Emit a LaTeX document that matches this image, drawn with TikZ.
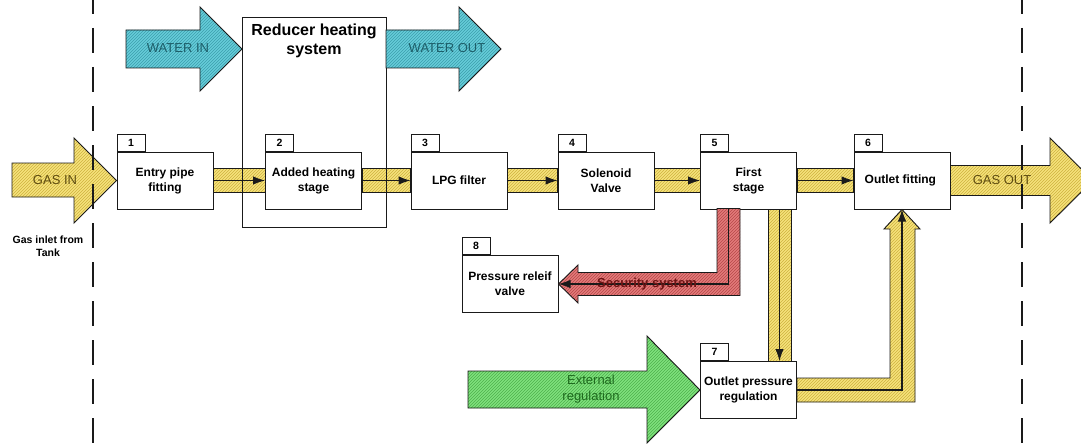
\documentclass[tikz,border=0pt]{standalone}
\usepackage{fontspec}
\setmainfont{Liberation Sans}
\usetikzlibrary{arrows.meta,calc,patterns}
\definecolor{RegLine}{HTML}{1A1A1A}
\definecolor{RegGas}{HTML}{F6E27C}
\definecolor{RegGasHatch}{HTML}{CDB23E}
\definecolor{RegGasText}{HTML}{5E4C10}
\definecolor{RegWater}{HTML}{66CCD9}
\definecolor{RegWaterHatch}{HTML}{3C9EAD}
\definecolor{RegWaterText}{HTML}{1D5E69}
\definecolor{RegSafety}{HTML}{E37B7B}
\definecolor{RegSafetyHatch}{HTML}{B64848}
\definecolor{RegSafetyText}{HTML}{6E1414}
\definecolor{RegExt}{HTML}{80E27E}
\definecolor{RegExtHatch}{HTML}{4DB04B}
\definecolor{RegExtText}{HTML}{1E6A1E}
\tikzset{
  blockbox/.style={draw=RegLine,line width=1pt,fill=white,
    minimum width=96pt,minimum height=57pt,inner sep=0pt,align=center,
    font=\bfseries\fontsize{12}{15}\selectfont},
  numtab/.style={draw=RegLine,line width=1pt,fill=white,
    minimum width=28pt,minimum height=17pt,inner sep=0pt,anchor=south west,
    font=\bfseries\fontsize{10.5}{12}\selectfont},
  hatched/.style 2 args={draw=RegLine,line width=0.9pt,preaction={fill=#1},
    pattern=north east lines,pattern color=#2},
  flowline/.style={RegLine,line width=1.1pt,-{Latex[length=12pt,width=8.5pt]}},
  arrowtext/.style={font=\fontsize{13}{16}\selectfont,align=center}
}
\begin{document}
\begin{tikzpicture}[x=1pt,y=-1pt]
        \useasboundingbox (0,0) rectangle (1081,444);

        % main row
        \foreach \n/\x/\txt in {
          1/165/{Entry pipe\\fitting},
          2/313.5/{Added heating\\stage},
          3/459/{LPG filter},
          4/606/{Solenoid\\Valve},
          5/748.5/{First\\stage},
          6/902/{Outlet fitting}
        }{
          \node[blockbox] (b\n) at (\x,180.5) {\txt};
          \node[numtab] (t\n) at (b\n.north west) {\n};
        }
        \node[blockbox] (b7) at (748.5,390) {Outlet pressure\\regulation};
        \node[numtab] (t7) at (b7.north west) {7};
        \node[blockbox] (b8) at (510,284) {Pressure releif\\valve};
        \node[numtab] (t8) at (b8.north west) {8};

        \foreach \a/\b in {1/2,2/3,3/4,4/5,5/6}{
          \draw[hatched={RegGas}{RegGasHatch}]
            ($(b\a.east)+(0,-12)$) rectangle ($(b\b.west)+(0,12)$);
          \draw[flowline] (b\a.east) -- (b\b.west);
        }

        % reducer heating
        \node[draw=RegLine,line width=1pt,minimum width=144pt,
          minimum height=209pt] (rh) at (314,122.5) {};
        \node[font=\bfseries\fontsize{16}{19}\selectfont,align=center]
          (rhtitle) at (314,41) {Reducer heating\\system};
        \draw[hatched={RegWater}{RegWaterHatch}] (126,30) -- (200,30)
          -- (200,7) -- (242,49) -- (200,91) -- (200,68) -- (126,68) -- cycle;
        \draw[hatched={RegWater}{RegWaterHatch}] (386,30) -- (459,30)
          -- (459,7) -- (501,49) -- (459,91) -- (459,68) -- (386,68) -- cycle;
        \node[arrowtext,text=RegWaterText] (winl) at (178,48) {WATER IN};
        \node[arrowtext,text=RegWaterText] (woutl) at (447,48) {WATER OUT};

        % gas in and out
        \draw[hatched={RegGas}{RegGasHatch}] (12,163) -- (74,163)
          -- (74,138) -- (b1.west) -- (74,223) -- (74,197) -- (12,197) -- cycle;
        \node[arrowtext,text=RegGasText] (ginl) at (55,180.5) {GAS IN};
        \draw[hatched={RegGas}{RegGasHatch}] (b6.east |- 0,165.5) -- (1050,165.5)
          -- (1050,138) -- (1093,180.5) -- (1050,223) -- (1050,195.5)
          -- (b6.east |- 0,195.5) -- cycle;
        \node[arrowtext,text=RegGasText] (goutl) at (1002,180.5) {GAS OUT};
        \node[font=\bfseries\fontsize{10.5}{13}\selectfont,align=center]
          (tank) at (48,246) {Gas inlet from\\Tank};

        % security branch
        \draw[hatched={RegSafety}{RegSafetyHatch}] (717,208.5) -- (717,272.5)
          -- (578,272.5) -- (578,265) -- (b8.east) -- (578,303) -- (578,295.5)
          -- (740,295.5) -- (740,208.5) -- cycle;
        \draw[flowline] (728.5,208.5) |- (b8.east);
        \node[font=\bfseries\fontsize{13}{15}\selectfont,text=RegSafetyText]
          (secl) at (647,284) {Security system};

        % regulation loop
        \draw[hatched={RegGas}{RegGasHatch}]
          ($(b5.south)+(19.5,0)$) rectangle ($(b7.north)+(42.5,0)$);
        \draw[flowline] ($(b5.south)+(31,0)$) -- ($(b7.north)+(31,0)$);
        \draw[hatched={RegGas}{RegGasHatch}] (b7.east |- 0,378) -- (890,378)
          -- (890,229) -- (884,229) -- (b6.south) -- (920,229) -- (915,229)
          -- (915,402) -- (b7.east |- 0,402) -- cycle;
        \draw[flowline] (b7.east) -| (b6.south);
        \draw[hatched={RegExt}{RegExtHatch}] (468,371) -- (647,371)
          -- (647,336) -- (b7.west) -- (647,443) -- (647,408) -- (468,408) -- cycle;
        \node[arrowtext,text=RegExtText] (extl) at (591,389) {External\\regulation};

        % system limits
        \foreach \x in {93,1022}{
          \draw[RegLine,line width=1.4pt,dash pattern=on 25pt off 14pt,
            dash phase=11pt] (\x,0) -- (\x,444);
        }
      \end{tikzpicture}
\end{document}
